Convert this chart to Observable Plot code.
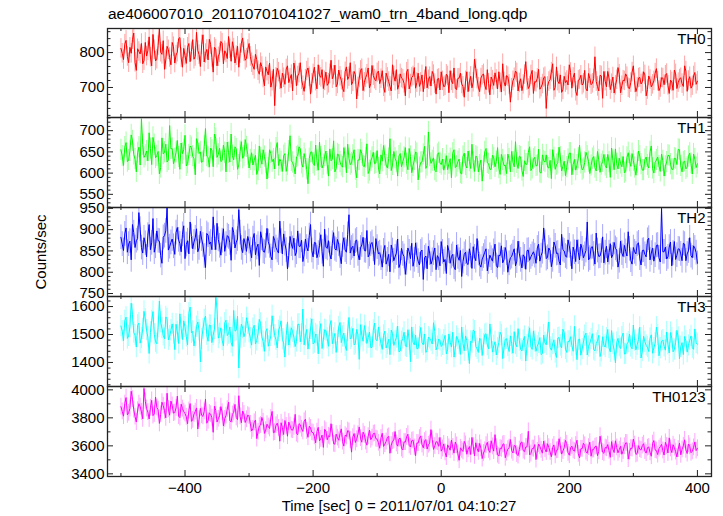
<!DOCTYPE html>
<html><head><meta charset="utf-8">
<script src="https://cdn.jsdelivr.net/npm/d3@7"></script>
<script src="https://cdn.jsdelivr.net/npm/@observablehq/plot@0.6"></script>
<style>
body{margin:0;background:#fff;}
#chart{position:relative;width:723px;height:516px;font-family:"Liberation Sans",Arial,Helvetica,sans-serif;color:#000;overflow:hidden;}
#chart svg{position:absolute;left:0;overflow:visible;background:transparent;}
.title{position:absolute;left:108px;top:5px;font-size:15.5px;line-height:1.15;white-space:nowrap;}
.ylab{position:absolute;left:40px;top:252px;transform:translate(-50%,-50%) rotate(-90deg);font-size:15px;white-space:nowrap;}
.xlab{position:absolute;left:399px;top:497px;transform:translateX(-50%);font-size:15px;line-height:1.15;white-space:nowrap;}
</style></head>
<body>
<div id="chart">
<div class="title">ae406007010_20110701041027_wam0_trn_4band_long.qdp</div>
<div class="ylab">Counts/sec</div>
<div class="xlab">Time [sec] 0 = 2011/07/01 04:10:27</div>
</div>
<script>
// time bins: even bins start at tStart, odd ("mid") bins at tStart + tStep/2
const tStart = -500, tStep = 4;

const th0 = [812,780,835,771,798,856,749,803,826,777,790,845,762,808,781,869,795,752,818,786,
829,770,801,843,758,792,815,774,837,789,806,760,851,797,779,823,744,810,788,832,
768,799,846,775,813,791,758,827,802,784,
826,771,752,780,738,760,705,747,770,718,648,755,722,
741,709,762,726,690,748,733,771,705,724,756,681,739,718,765,729,697,744,712,778,
735,702,750,721,688,759,731,708,746,667,727,754,715,738,699,763,724,742,
711,748,686,729,703,765,718,695,739,724,676,752,710,733,698,741,715,688,760,722,704,737,681,726,745,
702,738,685,719,756,694,727,710,672,745,716,699,781,724,688,735,707,751,679,721,
742,696,713,768,704,731,658,719,747,690,725,709,774,697,736,683,715,752,701,728,
640,717,744,692,759,711,686,732,720,765,698,741,677,723,707,749,690,726,712,788,
703,735,669,718,746,694,730,706,757,685,721,739,699,714,762,688,727,710,745,676,
733,702,719,754,691,728,708,740,683,716,750,697,724,711,762,689,731,705,743,718];
const th0Mid = [798,824,789,815,837,772,811,796,768,829,805,787,852,776,820,801,834,779,808,765,
817,793,840,785,812,769,826,803,781,858,794,822,773,809,838,786,815,762,799,827,
805,783,811,831,770,818,797,842,778,809,
789,762,795,748,771,727,759,736,701,752,729,744,698,
728,753,714,737,770,705,741,722,689,747,731,712,758,696,734,751,719,706,739,725,
764,710,732,698,745,723,771,716,737,702,749,691,728,756,711,734,719,747,
725,702,741,717,690,733,751,708,727,712,744,696,729,757,714,703,736,722,699,731,746,711,724,693,
719,705,733,748,711,697,726,741,703,719,688,732,715,754,701,727,739,694,712,730,
706,723,745,687,716,734,709,698,728,742,713,691,737,720,704,749,717,726,695,710,
731,703,722,768,700,718,736,693,714,707,743,729,689,721,735,712,696,740,708,725,
717,690,733,746,702,727,711,684,722,738,705,719,731,697,744,713,701,729,716,736,
694,723,709,741,718,700,727,735,706,721,692,739,714,728,703,747,720,698,733,709];

const th1 = [655,618,672,631,690,644,603,661,728,637,652,695,620,667,641,598,683,649,626,712,
658,634,677,609,646,689,623,664,640,596,671,650,628,705,637,659,615,681,644,627,
666,603,648,692,631,657,619,674,640,662,
612,648,630,597,664,621,639,586,655,627,610,672,633,604,646,619,688,625,598,641,
657,614,632,575,649,623,666,607,638,620,652,593,629,676,611,643,618,660,601,634,
624,655,589,631,647,615,669,606,637,622,653,598,628,641,612,681,619,635,593,646,
627,660,608,639,617,650,584,625,644,611,697,623,636,603,648,620,
607,641,622,589,655,616,633,598,647,612,628,668,604,637,619,581,650,624,609,642,
615,660,597,631,618,645,603,626,674,611,638,592,621,649,606,633,617,656,600,629,
643,612,587,636,620,661,605,628,614,647,596,632,619,666,608,625,640,599,634,613,
651,602,627,618,644,590,630,657,610,623,639,604,648,616,629,595,652,621,607,638,
612,664,600,631,617,645,593,626,641,609,635,620,655,603,628,614,647,598,633,622];
const th1Mid = [640,661,627,652,676,633,648,619,667,642,629,658,684,636,651,613,645,668,631,657,
622,649,638,671,655,617,643,660,634,681,646,625,663,640,614,654,692,637,659,630,
648,673,626,641,662,609,651,635,679,644,
631,619,642,607,636,655,624,612,647,633,659,618,627,641,604,652,629,615,638,662,
623,646,609,634,650,618,629,673,612,640,621,657,633,603,645,626,614,637,668,620,
642,608,631,655,617,636,599,628,649,624,612,643,665,619,634,606,651,627,640,615,
637,622,658,601,631,646,613,626,663,618,640,629,607,644,624,633,
620,608,634,647,613,627,600,639,619,652,611,625,640,603,631,616,658,622,609,636,
627,612,644,618,599,633,651,615,624,640,606,629,621,662,611,637,618,602,643,626,
614,630,655,609,623,638,616,594,632,647,620,607,635,623,611,649,627,618,639,605,
631,620,644,612,626,659,608,622,635,615,601,637,628,646,613,624,640,607,632,619,
650,611,625,638,604,629,616,642,621,609,634,656,617,626,610,639,623,645,613];

const th2 = [882,851,904,866,829,893,874,940,858,881,836,912,869,847,897,873,821,886,951,860,
878,842,905,867,889,832,874,918,855,881,848,896,864,811,887,871,930,853,877,840,
902,866,883,828,894,870,947,857,879,849,
872,834,891,858,816,880,847,903,862,829,875,851,920,843,867,808,884,856,839,897,
861,825,878,850,912,836,869,845,888,814,859,874,831,893,852,866,820,881,847,935,
857,838,876,829,864,851,898,842,870,818,859,
846,812,863,829,801,851,836,878,820,843,795,857,832,814,869,826,848,783,838,861,
819,845,806,833,872,824,797,850,837,812,864,828,790,842,821,855,809,836,879,818,
831,847,803,840,826,866,811,839,822,858,800,834,846,815,873,829,841,807,852,836,
848,821,866,839,904,832,857,813,871,844,826,889,850,835,862,808,847,876,829,855,
842,918,833,860,819,851,838,883,846,824,867,841,856,812,873,837,849,895,828,858,
843,869,817,852,836,880,845,826,863,834,950,848,831,859,815,872,840,854,827,866,
843,881,834,857,821];
const th2Mid = [866,890,847,873,912,858,879,901,845,868,887,853,926,861,874,839,882,897,852,870,
861,893,876,848,909,865,843,884,871,902,857,878,838,891,866,853,880,915,862,874,
849,886,869,905,857,878,893,846,868,884,
853,879,841,866,895,849,862,872,837,884,858,845,873,890,852,839,866,880,847,861,
875,842,859,886,851,870,834,863,848,901,856,842,868,855,877,838,864,852,889,845,
861,873,843,857,882,850,836,866,854,879,843,
833,850,819,842,864,827,845,811,856,837,822,848,868,829,840,817,852,834,808,845,
828,857,839,815,848,830,863,821,842,806,836,851,825,847,818,839,860,827,844,812,
838,855,824,833,849,816,840,862,829,845,821,837,855,826,843,810,836,851,828,842,
839,857,826,848,870,835,851,829,862,845,817,853,838,876,842,859,825,847,866,834,
851,829,858,843,892,837,850,822,861,846,834,870,852,827,845,863,838,855,819,848,
866,833,851,842,875,829,857,840,864,824,848,859,836,871,845,830,855,843,868,827,
850,839,862,846];

const th3 = [1530,1478,1562,1495,1612,1507,1455,1541,1488,1583,1516,1432,1549,1501,1467,1620,1523,1485,1556,1494,
1538,1446,1509,1574,1482,1527,1463,1598,1511,1490,1545,1402,1519,1566,1476,1532,1498,1640,1487,1524,
1459,1551,1503,1471,1586,1515,1380,1537,1492,1560,
1508,1462,1533,1479,1554,1491,1440,1521,1476,1567,1497,1452,1528,1483,1419,1545,1489,1510,1457,1536,
1474,1591,1495,1448,1520,1466,1502,1431,1539,1481,1514,1458,1550,1486,1436,1527,1471,1505,1443,1561,
1490,1463,1518,1411,1497,1532,1468,1509,1454,1541,1478,
1493,1447,1512,1465,1428,1503,1476,1530,1441,1486,1459,1517,1403,1472,1498,1450,1525,1463,1436,1491,1478,1542,1445,1484,1457,
1480,1431,1502,1455,1419,1493,1466,1527,1442,1478,1396,1471,1512,1449,1487,1425,1500,1462,1538,1437,
1474,1451,1508,1414,1483,1459,1495,1433,1466,1521,1447,1479,1405,1490,1456,1513,1440,1470,1428,1498,
1463,1545,1444,1481,1418,1489,1452,1507,1436,1475,1460,1529,1410,1484,1448,1496,1427,1469,1503,1442,
1477,1421,1492,1455,1518,1438,1467,1399,1486,1450,1505,1432,1473,1457,1534,1445,1482,1416,1494,1461,
1439,1499,1452,1526,1424,1476,1458,1509,1434,1487,1446,1515,1413,1471,1493,1437,1480,1453,1520,1465];
const th3Mid = [1512,1549,1486,1527,1571,1498,1533,1469,1520,1555,1491,1508,1582,1474,1526,1544,1497,1563,1481,1515,
1503,1537,1468,1521,1549,1493,1576,1506,1459,1528,1515,1484,1552,1499,1534,1471,1519,1590,1503,1480,
1541,1496,1527,1458,1512,1565,1489,1523,1507,1538,
1487,1521,1466,1502,1540,1475,1509,1458,1495,1528,1481,1513,1549,1470,1497,1462,1524,1490,1475,1537,
1501,1463,1518,1482,1556,1471,1496,1509,1450,1517,1486,1531,1467,1504,1478,1543,1493,1459,1512,1484,
1522,1468,1499,1535,1476,1506,1489,1453,1515,1481,1527,
1468,1497,1452,1483,1516,1461,1489,1438,1474,1508,1456,1481,1527,1463,1449,1492,1471,1502,1444,1486,1466,1511,1457,1479,
1463,1497,1445,1472,1508,1451,1484,1429,1468,1495,1443,1476,1516,1457,1436,1481,1465,1503,1449,1488,
1460,1427,1471,1499,1452,1485,1439,1467,1510,1456,1478,1441,1493,1462,1524,1447,1475,1458,1489,1432,
1470,1501,1454,1466,1435,1487,1461,1519,1448,1476,1492,1440,1463,1481,1426,1473,1505,1457,1484,1446,
1468,1497,1439,1462,1487,1452,1514,1444,1471,1458,1491,1430,1466,1502,1449,1478,1463,1526,1441,1474,
1455,1486,1433,1469,1498,1451,1480,1444,1465,1507,1438,1472,1490,1456,1428,1477,1461,1495,1447,1470];

const th0123 = [3880,3812,3945,3836,3990,3858,3770,3901,3843,4010,3867,3792,3925,3828,3874,3760,3912,3851,3976,3819,3889,3838,3955,3802,3866,
3831,3758,3902,3786,3845,3720,3868,3811,3934,3779,3826,3697,3853,3794,3880,3742,3816,3912,3771,3839,3803,3958,3765,3827,3790,
3812,3706,3768,3652,3741,3803,3689,3755,3724,3846,3698,3762,3633,3730,3781,3669,3745,3712,3825,3680,3751,3703,3790,3661,3728,
3694,3621,3732,3650,3589,3706,3672,3758,3615,3684,3640,3721,3598,3667,3703,3555,3688,3647,3735,3626,3679,3605,3712,3659,3690,
3648,3583,3690,3612,3661,3547,3634,3702,3598,3655,3570,3627,3683,3592,3641,3530,3619,3671,3586,3645,3608,3716,3575,3630,3597,
3562,3614,3520,3589,3641,3548,3603,3497,3571,3632,3540,3595,3660,3528,3582,3617,3509,3568,3625,3553,
3596,3680,3537,3584,3610,3515,3576,3645,3549,3599,3530,3621,3566,3592,3704,3545,3580,3502,3613,3571,
3634,3556,3590,3522,3607,3568,3651,3541,3586,3615,3533,3598,3562,3640,3514,3579,3604,3547,3626,3573,
3594,3530,3669,3555,3588,3609,3518,3577,3636,3550,3597,3563,3621,3505,3584,3648,3539,3601,3570,3615,
3548,3592,3526,3638,3566,3580,3610,3534,3599,3657,3552,3587,3520,3619,3574,3643,3545,3596,3561,3628,3583];
const th0123Mid = [3846,3902,3821,3867,3934,3809,3855,3880,3793,3918,3841,3872,3816,3949,3858,3825,3887,3800,3863,3920,3834,3871,3812,3898,3845,
3808,3852,3775,3827,3871,3789,3818,3846,3762,3835,3801,3884,3770,3815,3840,3793,3862,3779,3824,3896,3788,3811,3849,3767,3820,
3757,3721,3784,3700,3749,3772,3712,3738,3799,3694,3747,3728,3765,3681,3742,3770,3715,3736,3688,3758,3722,3776,3706,3740,3697,
3668,3701,3636,3677,3718,3643,3665,3692,3612,3659,3687,3630,3676,3709,3641,3662,3624,3683,3655,3698,3631,3669,3644,3687,3651,
3622,3657,3596,3631,3668,3605,3640,3617,3650,3581,3628,3664,3603,3637,3589,3621,3655,3610,3634,3577,3618,3646,3599,3626,3660,
3581,3553,3607,3569,3592,3627,3544,3586,3560,3611,3575,3538,3598,3622,3557,3583,3549,3605,3571,3636,
3562,3590,3527,3579,3614,3551,3587,3566,3603,3541,3574,3628,3559,3593,3535,3581,3609,3564,3596,3548,
3577,3615,3556,3588,3532,3571,3601,3563,3639,3550,3585,3568,3606,3543,3579,3618,3558,3591,3526,3574,
3599,3561,3612,3547,3583,3565,3630,3552,3589,3573,3540,3597,3620,3557,3581,3609,3545,3576,3602,3563,
3587,3554,3616,3570,3538,3594,3567,3625,3549,3582,3608,3559,3577,3536,3600,3571,3613,3551,3589,3566];

const panelNames = ["TH0","TH1","TH2","TH3","TH0123"];
const seriesList = [th0, th1, th2, th3, th0123];
const midList = [th0Mid, th1Mid, th2Mid, th3Mid, th0123Mid];
const colors = ["#ff0000","#00ff00","#0000ff","#00ffff","#ff00ff"];
const errHalf = [28, 25, 29, 38, 60];
const yDomains = [[614,869],[519,731],[743,952],[1314,1636],[3381,4024]];
const yMajor = [[700,800],[550,600,650,700],[750,800,850,900,950],[1400,1500,1600],[3400,3600,3800,4000]];
const yMinorStep = [20,10,10,20,100];
const xDomain = [-521, 422];
const xMajor = [-400,-200,0,200,400];
const xMinor = [-500,-300,-100,100,300];

const W = 723, ML = 107, MR = 12;
const innerW = W - ML - MR;
const tops = [28,117,207,296,386,476];
const chart = document.getElementById("chart");
const font = '"Liberation Sans", Arial, Helvetica, sans-serif';

seriesList.forEach((vals, k) => {
  const h = tops[k+1] - tops[k];
  const last = k === seriesList.length - 1;
  const data = vals.map((v, i) => ({t: tStart + i * tStep, v}))
    .concat(midList[k].map((v, i) => ({t: tStart + tStep / 2 + i * tStep, v})))
    .sort((a, b) => a.t - b.t);
  const [lo, hi] = yDomains[k];
  const step = yMinorStep[k];
  const minor = d3.range(Math.ceil(lo / step) * step, hi, step).filter(v => !yMajor[k].includes(v));
  const err = errHalf[k];
  const marks = [
    Plot.ruleX(data, {x: "t", y1: d => d.v - err, y2: d => d.v + err, stroke: colors[k], strokeOpacity: 0.35, strokeWidth: 1, clip: true}),
    Plot.line(data, {x: "t", y: "v", stroke: colors[k], strokeWidth: 1, clip: true}),
    Plot.frame({stroke: "#222", strokeWidth: 1.3}),
    Plot.ruleX(xMajor, {insetBottom: h - 6, stroke: "#222"}),
    Plot.ruleX(xMajor, {insetTop: h - 6, stroke: "#222"}),
    Plot.ruleX(xMinor, {insetBottom: h - 3, stroke: "#222"}),
    Plot.ruleX(xMinor, {insetTop: h - 3, stroke: "#222"}),
    Plot.ruleY(yMajor[k], {insetRight: innerW - 6, stroke: "#222"}),
    Plot.ruleY(yMajor[k], {insetLeft: innerW - 6, stroke: "#222"}),
    Plot.ruleY(minor, {insetRight: innerW - 3.5, stroke: "#222"}),
    Plot.ruleY(minor, {insetLeft: innerW - 3.5, stroke: "#222"}),
    Plot.axisY(yMajor[k], {tickSize: 0, tickPadding: 3, fontSize: 15, label: null, fill: "#000", tickFormat: d3.format("d")}),
    Plot.text([panelNames[k]], {frameAnchor: "top-right", dx: -6, dy: 5, lineAnchor: "top", textAnchor: "end", fontSize: 15, fill: "#000"})
  ];
  if (last) marks.push(Plot.axisX(xMajor, {tickSize: 0, tickPadding: 6, fontSize: 15, label: null, fill: "#000"}));
  const svg = Plot.plot({
    width: W,
    height: h + (last ? 40 : 0),
    marginLeft: ML, marginRight: MR, marginTop: 0, marginBottom: last ? 40 : 0,
    x: {domain: xDomain, axis: null, label: null},
    y: {domain: yDomains[k], axis: null, label: null},
    style: {fontFamily: font, fontSize: "15px", background: "transparent", overflow: "visible", color: "#000"},
    marks
  });
  svg.style.top = tops[k] + "px";
  chart.appendChild(svg);
});
</script>
</body></html>
